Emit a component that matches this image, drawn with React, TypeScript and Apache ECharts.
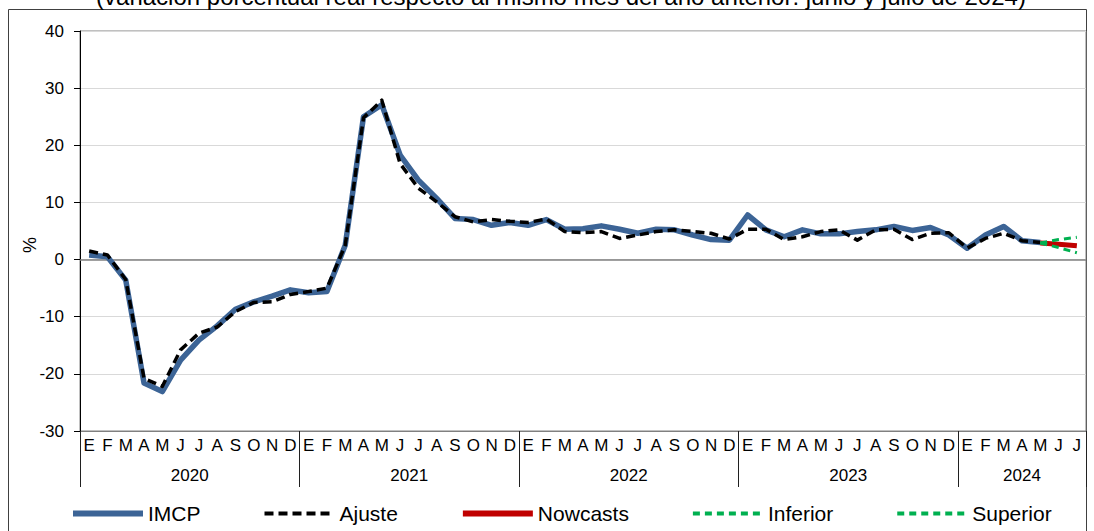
import React, { useEffect, useRef } from "react";
import * as echarts from "echarts";

const monthLetters = ["E", "F", "M", "A", "M", "J", "J", "A", "S", "O", "N", "D"];
const years = ["2020", "2021", "2022", "2023", "2024"];
const monthsPerYear = [12, 12, 12, 12, 7];

const imcp: (number | null)[] = [
  0.8, 0.5, -3.6, -21.6, -23.1, -17.6, -14.1, -11.6, -8.7, -7.4, -6.4, -5.3,
  -5.8, -5.6, 2.5, 25.0, 27.1, 18.3, 13.9, 10.7, 7.2, 7.0, 6.0, 6.5,
  6.0, 7.0, 5.3, 5.4, 5.9, 5.3, 4.6, 5.3, 5.2, 4.3, 3.5, 3.4,
  7.8, 5.2, 4.0, 5.2, 4.5, 4.5, 4.9, 5.2, 5.8, 5.1, 5.6, 4.3,
  2.0, 4.3, 5.8, 3.3, 3.0, null, null,
];
const ajuste: (number | null)[] = [
  1.5, 0.8, -3.5, -20.8, -22.2, -15.8, -12.9, -11.8, -9.1, -7.5, -7.4, -6.1,
  -5.6, -5.0, 2.5, 24.8, 27.9, 16.8, 12.5, 10.1, 7.5, 6.6, 7.0, 6.7,
  6.5, 7.1, 4.9, 4.7, 4.9, 3.7, 4.3, 4.9, 5.2, 4.9, 4.6, 3.6,
  5.3, 5.3, 3.5, 4.0, 4.9, 5.2, 3.4, 5.2, 5.3, 3.5, 4.6, 4.7,
  2.0, 3.7, 4.6, 3.3, 3.0, null, null,
];
const nowcasts: (number | null)[] = [...Array(52).fill(null), 2.9, 2.7, 2.4];
const inferior: (number | null)[] = [...Array(52).fill(null), 2.9, 2.1, 1.2];
const superior: (number | null)[] = [...Array(52).fill(null), 2.9, 3.5, 3.9];

const titleText =
  "(variación porcentual real respecto al mismo mes del año anterior: junio y julio de 2024)";

const FONT = "Liberation Sans, Arial, sans-serif";

export default function App() {
  const ref = useRef<HTMLDivElement>(null);
  useEffect(() => {
    if (!ref.current) return;
    const chart = echarts.init(ref.current, null, { renderer: "svg" });

    const categories: string[] = [];
    const boundaries: number[] = [0];
    const centers: number[] = [];
    let acc = 0;
    monthsPerYear.forEach((n) => {
      for (let m = 0; m < n; m++) categories.push(monthLetters[m]);
      centers.push(acc + n / 2);
      acc += n;
      boundaries.push(acc);
    });
    const centerToYear = (v: number) => {
      const idx = centers.findIndex((c) => Math.abs(c - v) < 0.01);
      return idx >= 0 ? years[idx] : "";
    };

    const lineSeries = (name: string, data: (number | null)[], color: string, width: number, type: any) => ({
      name,
      type: "line",
      data,
      xAxisIndex: 0,
      yAxisIndex: 0,
      symbol: "none",
      showSymbol: false,
      connectNulls: false,
      lineStyle: { color, width, type, cap: "butt", join: "round" },
      itemStyle: { color },
    });

    chart.setOption({
      animation: false,
      textStyle: { fontFamily: FONT, color: "#000" },
      grid: {
        left: 80,
        right: 8,
        top: 31,
        bottom: 100,
        show: true,
        borderColor: "#808080",
        borderWidth: 1,
      },
      xAxis: [
        {
          type: "category",
          data: categories,
          boundaryGap: true,
          position: "bottom",
          axisLine: { show: true, onZero: false, lineStyle: { color: "#808080", width: 1 } },
          axisTick: { show: false },
          axisLabel: { interval: 0, fontSize: 17, color: "#000", margin: 6, fontFamily: FONT },
          splitLine: { show: false },
        },
        {
          type: "value",
          min: 0,
          max: 55,
          position: "bottom",
          axisLine: { show: false, onZero: false },
          splitLine: { show: false },
          axisTick: {
            show: true,
            customValues: boundaries,
            length: 56,
            lineStyle: { color: "#202020", width: 1 },
          },
          axisLabel: {
            show: true,
            customValues: centers,
            formatter: (v: number) => centerToYear(v),
            fontSize: 17,
            color: "#000",
            margin: 36,
            fontFamily: FONT,
          },
        },
      ],
      yAxis: {
        type: "value",
        min: -30,
        max: 40,
        interval: 10,
        axisLine: { show: true, lineStyle: { color: "#000", width: 1 } },
        axisTick: { show: true, inside: false, length: 6, lineStyle: { color: "#000" } },
        axisLabel: { fontSize: 17, color: "#000", margin: 16, fontFamily: FONT },
        splitLine: { show: true, lineStyle: { color: "#d9d9d9", width: 1 } },
      },
      legend: {
        left: 70,
        top: 503,
        padding: 0,
        itemWidth: 70,
        itemHeight: 14,
        itemGap: 62,
        itemStyle: { color: "rgba(0,0,0,0)", borderColor: "rgba(0,0,0,0)", borderWidth: 0, opacity: 0 },
        textStyle: { fontSize: 21, color: "#000", fontFamily: FONT },
        data: [
          { name: "IMCP", lineStyle: { width: 6 } },
          { name: "Ajuste", lineStyle: { width: 4 } },
          { name: "Nowcasts", lineStyle: { width: 6 } },
          { name: "Inferior", lineStyle: { width: 4 } },
          { name: "Superior", lineStyle: { width: 4 } },
        ],
      },
      graphic: [
        {
          type: "rect",
          shape: { x: 8.5, y: 9.5, width: 1078, height: 540 },
          style: { fill: "none", stroke: "#404040", lineWidth: 1 },
          silent: true,
          z: -10,
        },
        {
          type: "text",
          x: 561,
          y: -4,
          style: {
            text: titleText,
            fontSize: 24,
            fontFamily: FONT,
            fill: "#000",
            textAlign: "center",
            textVerticalAlign: "middle",
          },
        },
        {
          type: "text",
          x: 30,
          y: 245,
          rotation: Math.PI / 2,
          style: {
            text: "%",
            fontSize: 18,
            fontFamily: FONT,
            fill: "#000",
            textAlign: "center",
            textVerticalAlign: "middle",
          },
        },
      ],
      series: [
        {
          ...lineSeries("IMCP", imcp, "#3C6496", 5.5, "solid"),
          markLine: {
            silent: true,
            symbol: "none",
            label: { show: false },
            lineStyle: { color: "#808080", width: 1.5, type: "solid" },
            data: [{ yAxis: 0 }],
            z: 1,
          },
        },
        lineSeries("Ajuste", ajuste, "#000000", 3.5, [9, 5]),
        lineSeries("Nowcasts", nowcasts, "#C00000", 5, "solid"),
        lineSeries("Inferior", inferior, "#00B050", 3, [7, 5]),
        lineSeries("Superior", superior, "#00B050", 3, [7, 5]),
      ],
    });
    return () => chart.dispose();
  }, []);
  return (
    <div
      ref={ref}
      style={{ position: "absolute", left: 0, top: 0, width: 1094, height: 531, background: "#fff" }}
    />
  );
}
